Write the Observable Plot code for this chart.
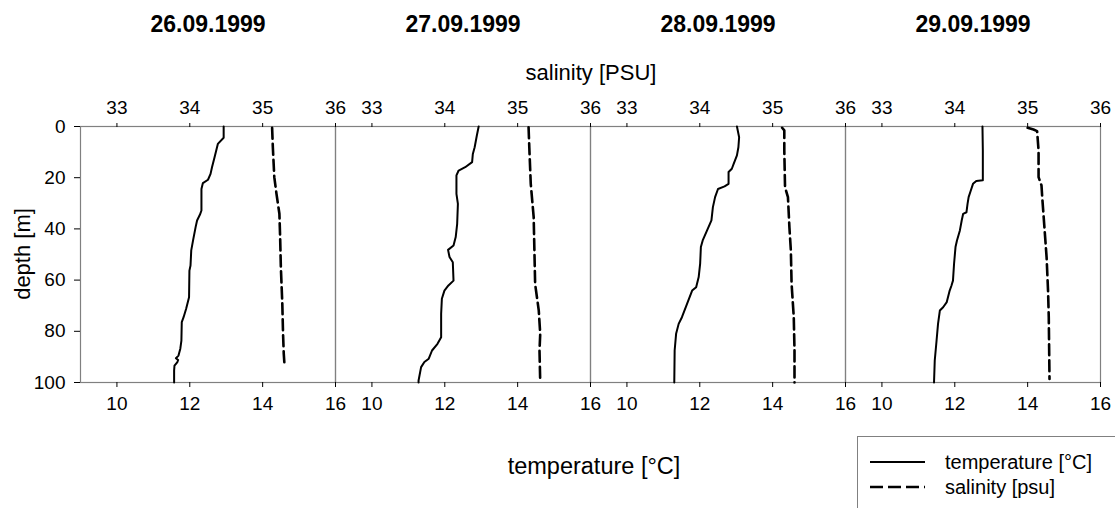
<!DOCTYPE html>
<html>
<head>
<meta charset="utf-8">
<script src="https://cdn.jsdelivr.net/npm/d3@7"></script>
<script src="https://cdn.jsdelivr.net/npm/@observablehq/plot@0.6"></script>
<style>
  html, body { margin: 0; padding: 0; background: white; }
  #chart { width: 1115px; height: 508px; overflow: hidden; }
  svg g[aria-label$="tick"] { stroke: #808080; }
</style>
</head>
<body>
<div id="chart"></div>
<script>
// ---- data ----
const dates = ["26.09.1999", "27.09.1999", "28.09.1999", "29.09.1999"];
const depthTicks = [0, 20, 40, 60, 80, 100];
const tempTicks = [10, 12, 14, 16];
const salTicks = [33, 34, 35, 36];
const tempDomain = [9, 16];
const salDomain = [32.5, 36];

// [depth (m), temperature (°C)]
const temp26 = [[0,12.93],[4.4,12.93],[6.8,12.77],[12,12.68],[15.9,12.61],[18.5,12.57],[20.8,12.5],[22.1,12.36],[24.4,12.32],[32.8,12.32],[34.4,12.28],[36.7,12.2],[39.3,12.16],[44.5,12.09],[48.4,12.04],[54.3,12.02],[56.3,11.99],[66.7,11.98],[71.2,11.9],[74.5,11.83],[76.4,11.78],[83.6,11.77],[86.8,11.74],[89.5,11.69],[90.5,11.62],[91.2,11.68],[92,11.66],[93.4,11.58],[95.3,11.57],[100,11.57]];
const temp27 = [[0,12.93],[3.5,12.88],[8.1,12.82],[10.7,12.77],[13.9,12.75],[15.9,12.56],[17.2,12.38],[19.1,12.32],[26.3,12.32],[30.2,12.36],[38,12.34],[43.2,12.3],[46.5,12.24],[48.2,12.09],[51,12.13],[53,12.22],[60.2,12.24],[62.1,12.1],[64.1,11.99],[67.3,11.92],[73.2,11.9],[82.3,11.9],[84.9,11.8],[87.5,11.65],[90.7,11.56],[92,11.44],[94,11.35],[99.2,11.28],[100,11.28]];
const temp28 = [[0,13.02],[4.2,13.08],[8.1,13.06],[11.3,13.02],[14.6,12.93],[16.5,12.88],[17.8,12.79],[22.4,12.79],[23.4,12.68],[24.4,12.5],[27.6,12.42],[31.5,12.36],[36.7,12.32],[40.6,12.2],[44.5,12.08],[47.1,12.03],[53.6,12.01],[58.8,11.97],[62.8,11.9],[64.1,11.79],[69.3,11.65],[74.5,11.51],[77.1,11.42],[81,11.35],[87.5,11.31],[100,11.3]];
const temp29 = [[0,12.76],[9.4,12.77],[21,12.77],[21.3,12.59],[22.4,12.5],[25,12.44],[27.6,12.38],[30.2,12.35],[33.5,12.32],[34.1,12.23],[36.7,12.19],[40.6,12.14],[44.5,12.06],[47.1,12.02],[53.6,11.98],[60.2,11.95],[62.1,11.91],[64.1,11.86],[68.6,11.78],[70.6,11.68],[71.9,11.59],[77.1,11.54],[83.6,11.5],[91.4,11.45],[100,11.43]];

// [depth (m), salinity (PSU)]
const sal26 = [[0.5,35.13],[8.1,35.14],[19.8,35.16],[26.3,35.19],[34.1,35.23],[43.2,35.24],[55,35.25],[69.3,35.27],[81,35.28],[88.8,35.29],[93.1,35.30]];
const sal27 = [[0.3,35.15],[8.1,35.16],[22.4,35.18],[35.4,35.22],[48.4,35.23],[61.5,35.24],[71.9,35.29],[81,35.31],[87.5,35.30],[100,35.31]];
const sal28 = [[0.5,35.13],[1.5,35.16],[9.4,35.16],[23.7,35.17],[27.6,35.21],[39.3,35.23],[48.4,35.25],[61.5,35.26],[74.5,35.29],[87.5,35.30],[100,35.30]];
const sal29 = [[0.5,35.0],[1.2,35.08],[1.8,35.13],[9.4,35.15],[19.8,35.15],[23,35.19],[27.6,35.20],[39.3,35.23],[51,35.26],[64.1,35.28],[74.5,35.29],[98.6,35.30]];

const legendLabels = ["temperature [°C]", "salinity [psu]"];

// ---- build tables ----
const tempSeries = [temp26, temp27, temp28, temp29];
const salSeries = [sal26, sal27, sal28, sal29];
const tempRows = tempSeries.flatMap((s, i) => s.map(([depth, v]) => ({date: dates[i], depth, value: v})));
const salRows = salSeries.flatMap((s, i) => s.map(([depth, v]) => ({date: dates[i], depth, value: v})));
// salinity shares the x scale: the salinity axis (top) is a linear re-labelling of the temperature axis
const salToTemp = d3.scaleLinear().domain(salDomain).range(tempDomain);

const FONT = "'Liberation Sans', Arial, Helvetica, sans-serif";

const plot = Plot.plot({
  width: 1115,
  height: 508,
  marginLeft: 79,
  marginRight: 14,
  marginTop: 126,
  marginBottom: 126,
  style: {fontFamily: FONT, color: "black", background: "white", overflow: "visible"},
  fx: {domain: dates, padding: 0, axis: null, label: null},
  x: {domain: tempDomain, axis: null, label: null},
  y: {domain: [0, 100], reverse: true, axis: null, label: null},
  marks: [
    Plot.frame({stroke: "#808080", strokeWidth: 1.2}),
    Plot.axisY({ticks: depthTicks, tickFormat: d => String(d), tickSize: 6, tickPadding: 9, fontSize: 19, label: null}),
    Plot.axisX({anchor: "top", ticks: tempTicks, tickFormat: d => String(salTicks[tempTicks.indexOf(d)]), tickSize: 4, tickPadding: 9, fontSize: 19, label: null}),
    Plot.axisX({anchor: "bottom", ticks: tempTicks, tickFormat: d => String(d), tickSize: 5, tickPadding: 9, fontSize: 19, label: null}),
    Plot.text(dates, {fx: d => d, text: d => d, frameAnchor: "top", lineAnchor: "middle", dy: -102, fontSize: 23, fontWeight: "bold"}),
    Plot.line(tempRows, {fx: "date", x: "value", y: "depth", stroke: "black", strokeWidth: 2}),
    Plot.line(salRows, {fx: "date", x: d => salToTemp(d.value), y: "depth", stroke: "black", strokeWidth: 2.6, strokeDasharray: "11,5"})
  ]
});

document.getElementById("chart").appendChild(plot);

// ---- overall axis titles and legend ----
const svg = d3.select(plot);
const g = svg.append("g").attr("font-family", FONT).attr("fill", "black");
g.append("text").attr("x", 591).attr("y", 72).attr("text-anchor", "middle").attr("dominant-baseline", "central").attr("font-size", 22).text("salinity [PSU]");
g.append("text").attr("x", 594).attr("y", 466).attr("text-anchor", "middle").attr("dominant-baseline", "central").attr("font-size", 23.5).text("temperature [°C]");
g.append("text").attr("transform", "translate(22,254) rotate(-90)").attr("text-anchor", "middle").attr("dominant-baseline", "central").attr("font-size", 22).text("depth [m]");

const lg = g.append("g");
lg.append("rect").attr("x", 857.5).attr("y", 436.5).attr("width", 300).attr("height", 100).attr("fill", "white").attr("stroke", "#808080").attr("stroke-width", 1);
lg.append("line").attr("x1", 870).attr("x2", 925).attr("y1", 462).attr("y2", 462).attr("stroke", "black").attr("stroke-width", 2);
lg.append("line").attr("x1", 870).attr("x2", 925).attr("y1", 487).attr("y2", 487).attr("stroke", "black").attr("stroke-width", 2.6).attr("stroke-dasharray", "13,5");
legendLabels.forEach((t, i) => {
  lg.append("text").attr("x", 945).attr("y", 462 + i * 25).attr("text-anchor", "start").attr("dominant-baseline", "central").attr("font-size", 20).text(t);
});
</script>
</body>
</html>
